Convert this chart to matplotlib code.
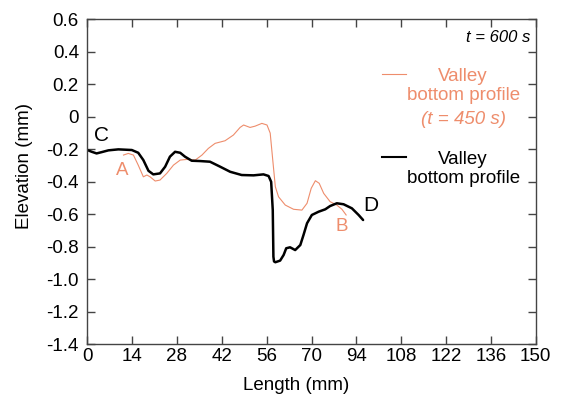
import matplotlib
matplotlib.use("Agg")
import matplotlib.pyplot as plt

plt.rcParams['font.family'] = ['Liberation Sans', 'DejaVu Sans']

# ---- data (length in mm, elevation in mm) ----
black_x = [0, 1.4, 2.9, 4.5, 6.6, 9.7, 13.9, 15.9, 17.5, 19.1, 20.6, 22.7, 24.3,
           25.8, 27.4, 29.0, 30.5, 32.6, 35.2, 38.3, 41.5, 44.6, 48.2, 51.9, 55.0,
           56.6, 57.4, 57.9, 58.1, 58.3, 58.7, 60.2, 61.3, 62.1, 63.3, 64.9, 66.5,
           67.5, 68.6, 70.1, 72.2, 74.3, 75.8, 77.9, 80.0, 82.6, 84.7, 86.1]
black_y = [-0.204, -0.215, -0.225, -0.217, -0.206, -0.200, -0.204, -0.221, -0.266,
           -0.332, -0.354, -0.348, -0.307, -0.245, -0.215, -0.221, -0.245, -0.270,
           -0.272, -0.276, -0.307, -0.338, -0.358, -0.360, -0.354, -0.364, -0.400,
           -0.574, -0.861, -0.890, -0.895, -0.885, -0.850, -0.809, -0.803, -0.820,
           -0.789, -0.727, -0.655, -0.604, -0.584, -0.569, -0.549, -0.532, -0.538,
           -0.563, -0.604, -0.635]

orange_x = [11.3, 12.8, 14.4, 15.9, 17.5, 18.6, 19.6, 21.2, 22.7, 24.8, 26.9, 29.0,
            31.1, 33.7, 35.8, 37.8, 39.9, 43.0, 45.6, 47.7, 48.8, 50.8, 52.4, 54.5,
            56.1, 57.1, 57.9, 58.7, 59.7, 61.8, 64.4, 67.0, 68.6, 69.9, 71.2, 72.4,
            73.8, 75.8, 77.9, 79.5, 80.8]
orange_y = [-0.235, -0.225, -0.235, -0.297, -0.369, -0.358, -0.369, -0.395, -0.389,
            -0.348, -0.297, -0.266, -0.262, -0.266, -0.235, -0.194, -0.163, -0.147,
            -0.112, -0.065, -0.050, -0.065, -0.057, -0.040, -0.050, -0.100, -0.266,
            -0.430, -0.492, -0.543, -0.569, -0.574, -0.532, -0.440, -0.393, -0.409,
            -0.471, -0.522, -0.543, -0.569, -0.604]

x_ticks = [0, 14, 28, 42, 56, 70, 84, 98, 112, 126, 140]
x_tick_labels = ['0', '14', '28', '42', '56', '70', '94', '108', '122', '136', '150']
y_ticks = [0.6, 0.4, 0.2, 0, -0.2, -0.4, -0.6, -0.8, -1.0, -1.2, -1.4]
y_tick_labels = ['0.6', '0.4', '0.2', '0', '-0.2', '-0.4', '-0.6', '-0.8', '-1.0', '-1.2', '-1.4']

ORANGE = '#EE8D6C'
SPINE = '#444444'

fig = plt.figure(figsize=(5.61, 4.05), dpi=100)
ax = fig.add_axes([0.1556, 0.150, 0.7994, 0.802])

ax.plot(orange_x, orange_y, color=ORANGE, lw=0.8, solid_joinstyle='round')
ax.plot(black_x, black_y, color='black', lw=1.8, solid_joinstyle='round',
        solid_capstyle='round')

ax.set_xlim(0, 140)
ax.set_ylim(-1.4, 0.6)
ax.set_xticks(x_ticks)
ax.set_xticklabels(x_tick_labels)
ax.set_yticks(y_ticks)
ax.set_yticklabels(y_tick_labels)

ax.tick_params(direction='in', top=True, right=True, length=6, width=1,
               color=SPINE, labelsize=13.5)
ax.tick_params(axis='y', pad=6)
ax.tick_params(axis='x', pad=3)
for s in ax.spines.values():
    s.set_color(SPINE)
    s.set_linewidth(1)

ax.set_xlabel('Length (mm)', fontsize=13.5)
ax.set_ylabel('Elevation (mm)', fontsize=13.5)
ax.xaxis.set_label_coords(0.465, -0.10)
ax.yaxis.set_label_coords(-0.121, 0.55)

# point labels
ax.text(4.4, -0.115, 'C', fontsize=15, ha='center', va='center')
ax.text(88.5, -0.545, 'D', fontsize=15, ha='center', va='center')
ax.text(11.0, -0.33, 'A', fontsize=13.5, ha='center', va='center', color=ORANGE)
ax.text(79.3, -0.675, 'B', fontsize=13.5, ha='center', va='center', color=ORANGE)

# time + legend drawn by hand
ax.text(0.987, 0.944, 't = 600 s', transform=ax.transAxes, ha='right', va='center',
        fontsize=12, style='italic')
ax.plot([0.658, 0.711], [0.832, 0.832], transform=ax.transAxes, color=ORANGE, lw=0.8)
ax.text(0.838, 0.795, 'Valley\nbottom profile', transform=ax.transAxes,
        ha='center', va='center', multialignment='center', fontsize=13.5,
        color=ORANGE, linespacing=1.15)
ax.text(0.838, 0.692, '(t = 450 s)', transform=ax.transAxes, ha='center', va='center',
        fontsize=13.5, color=ORANGE, style='italic')
ax.plot([0.658, 0.711], [0.575, 0.575], transform=ax.transAxes, color='black', lw=1.5)
ax.text(0.838, 0.540, 'Valley\nbottom profile', transform=ax.transAxes,
        ha='center', va='center', multialignment='center', fontsize=13.5,
        color='black', linespacing=1.15)

fig.savefig('out.png', dpi=100, facecolor='white')
